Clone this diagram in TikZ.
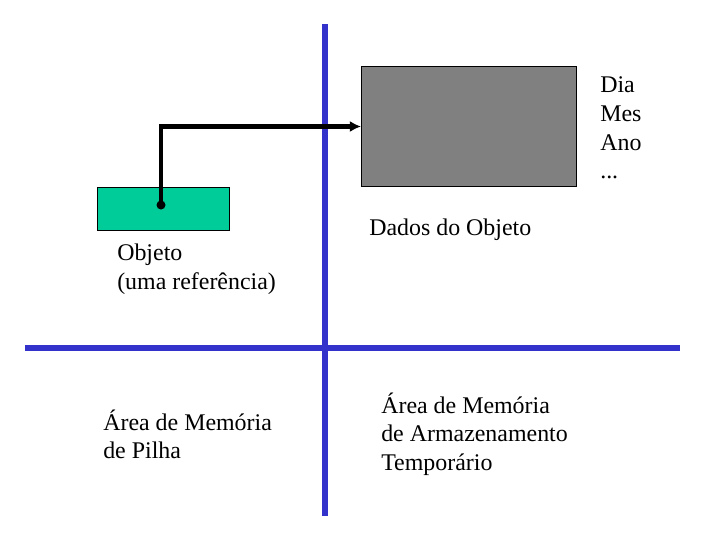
\documentclass[tikz,border=0pt]{standalone}
\usepackage{fontspec}
\setmainfont{Liberation Serif}
\usetikzlibrary{arrows.meta}

\definecolor{divisa}{RGB}{51,51,204}
\definecolor{verde}{RGB}{0,204,153}
\definecolor{cinza}{RGB}{128,128,128}

\tikzset{
  divisao/.style={divisa,line width=4.3pt},
  rotulo/.style={anchor=west,align=left,inner sep=0pt,font=\fontsize{17}{20.3}\selectfont},
  caixa/.style={draw=black,line width=0.7pt,inner sep=0pt,anchor=north west}
}

\begin{document}
\begin{tikzpicture}[x=0.025cm,y=-0.025cm]
    \useasboundingbox (0,0) rectangle (720,540);
    \draw[divisao] (325,24) -- (325,516);
    \draw[divisao] (25,348) -- (680,348);
    \node[caixa,fill=verde,minimum width=132*0.025cm,minimum height=43*0.025cm] (ref) at (97,187) {};
    \node[caixa,fill=cinza,minimum width=215*0.025cm,minimum height=120*0.025cm] (dados) at (361,66) {};
    \coordinate (ponto) at (161,205);
    \fill (ponto) circle (4.5);
    \draw[line width=3pt,-{Latex[length=8pt,width=8pt]}] (ponto) |- (dados.west);
    \node[rotulo] (campos) at (600,128) {Dia\\Mes\\Ano\\...};
    \node[rotulo] (objeto) at (117,269.5) {Objeto\\(uma referência)};
    \node[rotulo] (dadosobj) at (369,230) {Dados do Objeto};
    \node[rotulo] (pilha) at (103,434.5) {Área de Memória\\de Pilha};
    \node[rotulo] (heap) at (381,434) {Área de Memória\\de Armazenamento\\Temporário};
\end{tikzpicture}
\end{document}
